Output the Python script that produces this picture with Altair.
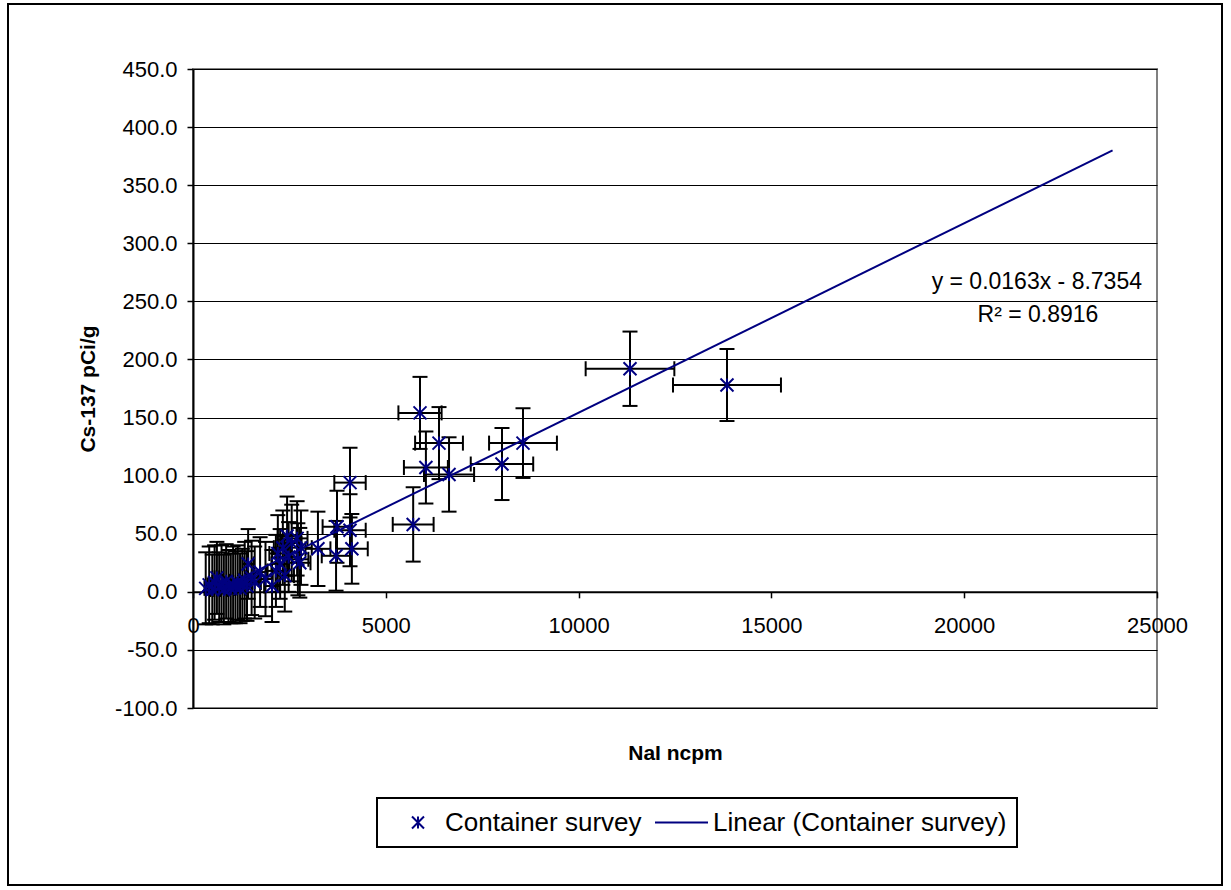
import altair as alt
import pandas as pd

# ---- data ----
NCPM = [330, 420, 500, 560, 620, 680, 740, 800, 860, 920,
        980, 1040, 1100, 1160, 1220, 1280, 1340, 1400, 1430, 1520,
        1600, 1740, 1880, 2050, 2150, 2200, 2260, 2330, 2380, 2440,
        2480, 2560, 2700, 2720, 2770, 2800, 3240, 3710, 3734, 4072,
        4072, 4120, 5710, 5887, 6040, 6380, 6640, 8013, 8558, 11333,
        13848]
CS137 = [3, 6, 2, 8, 12, 4, 7, 2, 9, 5,
         3, 6, 4, 8, 3, 6, 10, 5, 24, 12,
         8, 17, 11, 5, 18, 33, 24, 38, 14, 48,
         30, 42, 46, 28, 25, 38, 37, 31, 56, 94,
         53, 37, 58, 154, 107, 128, 101, 110, 128, 192,
         178]
NCPM_ERR = [33, 42, 50, 56, 62, 68, 74, 80, 86, 92,
            98, 104, 110, 116, 122, 128, 134, 140, 143, 152,
            160, 174, 188, 205, 215, 220, 226, 233, 238, 244,
            248, 256, 270, 272, 277, 280, 324, 371, 373, 407,
            407, 412, 530, 560, 570, 620, 650, 810, 880, 1150,
            1400]
CS137_ERR = [31, 33, 30, 32, 31, 30, 33, 30, 32, 31,
             30, 33, 31, 32, 30, 31, 33, 30, 30, 32,
             31, 30, 32, 31, 31, 33, 30, 32, 31, 34,
             30, 33, 32, 31, 30, 32, 32, 30, 31, 30,
             31, 30, 32, 31, 31, 31, 32, 31, 30, 32,
             31]
SERIES = ["Container survey", "Linear (Container survey)"]
SLOPE = 0.0163
INTERCEPT = -8.7354
TREND_X = [330, 23848]
X_TICKS = [0, 5000, 10000, 15000, 20000, 25000]
Y_TICKS = [-100, -50, 0, 50, 100, 150, 200, 250, 300, 350, 400, 450]
EQ_LINE = "y = 0.0163x - 8.7354"
R2_LINE = "R\u00b2 = 0.8916"

# ---- layout / style ----
W, H = 964, 639
NAVY = "#000080"
FONT = "Liberation Sans"
STAR = "M-1,-1L1,1M-1,1L1,-1M0,-1L0,1"

df = pd.DataFrame({"ncpm": NCPM, "cs": CS137, "xe": NCPM_ERR, "ye": CS137_ERR})

xscale = alt.Scale(domain=[0, 25000], nice=False, zero=False)
yscale = alt.Scale(domain=[-100, 450], nice=False, zero=False)

x_axis = alt.Axis(values=X_TICKS, format="d", grid=False, offset=-H * 100 / 550,
                  title="NaI ncpm", titleY=162, titleBaseline="middle",
                  labelPadding=18, labelFlush=False, labelOverlap=False,
                  tickSize=6)
y_axis = alt.Axis(values=Y_TICKS, format=".1f", grid=True, title="Cs-137 pCi/g",
                  labelExpr="replace(datum.label, '\u2212', '-')",
                  titleX=-105, titleBaseline="middle", labelPadding=10, tickSize=6)

base = alt.Chart(df).transform_calculate(
    xlo="datum.ncpm - datum.xe", xhi="datum.ncpm + datum.xe",
    ylo="datum.cs - datum.ye", yhi="datum.cs + datum.ye",
)

ybars = base.mark_rule(color="black", strokeWidth=2).encode(
    x=alt.X("ncpm:Q", scale=xscale, axis=x_axis),
    y=alt.Y("ylo:Q", scale=yscale, axis=y_axis),
    y2="yhi:Q",
)
xbars = base.mark_rule(color="black", strokeWidth=2).encode(
    x=alt.X("xlo:Q", scale=xscale),
    x2="xhi:Q",
    y=alt.Y("cs:Q", scale=yscale),
)
ycaps = base.transform_fold(["ylo", "yhi"], as_=["k", "v"]).mark_point(
    shape="M-1,0L1,0", size=225, filled=False, color="black", strokeWidth=2, opacity=1
).encode(x=alt.X("ncpm:Q", scale=xscale), y=alt.Y("v:Q", scale=yscale))
xcaps = base.transform_fold(["xlo", "xhi"], as_=["k", "v"]).mark_point(
    shape="M0,-1L0,1", size=225, filled=False, color="black", strokeWidth=2, opacity=1
).encode(x=alt.X("v:Q", scale=xscale), y=alt.Y("cs:Q", scale=yscale))

trend = alt.Chart(pd.DataFrame({"tx": TREND_X})).transform_calculate(
    ty=f"{SLOPE} * datum.tx + ({INTERCEPT})"
).mark_line(color=NAVY, strokeWidth=2).encode(
    x=alt.X("tx:Q", scale=xscale), y=alt.Y("ty:Q", scale=yscale)
)

points = alt.Chart(df).mark_point(shape=STAR, size=169, filled=False, color=NAVY,
                                  strokeWidth=2, opacity=1).encode(
    x=alt.X("ncpm:Q", scale=xscale),
    y=alt.Y("cs:Q", scale=yscale),
)

eq = alt.Chart(pd.DataFrame({"t": [EQ_LINE]})).mark_text(
    font=FONT, fontSize=23, align="right", baseline="middle", color="black").encode(
    x=alt.value(949), y=alt.value(213), text="t:N")
r2 = alt.Chart(pd.DataFrame({"t": [R2_LINE]})).mark_text(
    font=FONT, fontSize=23, align="center", baseline="middle", color="black").encode(
    x=alt.value(845), y=alt.value(246), text="t:N")

# ---- legend (drawn as a boxed key below the plot) ----
one = pd.DataFrame({"a": [0]})
leg_box = alt.Chart(one).mark_rect(fill="white", stroke="black", strokeWidth=2).encode(
    x=alt.value(184), x2=alt.value(824), y=alt.value(729), y2=alt.value(778))
leg_star = alt.Chart(one).mark_point(shape=STAR, size=144, filled=False, color=NAVY,
                                     strokeWidth=2, opacity=1).encode(
    x=alt.value(225), y=alt.value(753.5))
leg_line = alt.Chart(one).mark_rule(color=NAVY, strokeWidth=2).encode(
    x=alt.value(462), x2=alt.value(515), y=alt.value(753.5))
leg_t1 = alt.Chart(pd.DataFrame({"t": [SERIES[0]]})).mark_text(
    font=FONT, fontSize=26, align="left", baseline="middle", color="black").encode(
    x=alt.value(252), y=alt.value(754), text="t:N")
leg_t2 = alt.Chart(pd.DataFrame({"t": [SERIES[1]]})).mark_text(
    font=FONT, fontSize=26, align="left", baseline="middle", color="black").encode(
    x=alt.value(520), y=alt.value(754), text="t:N")

border = alt.Chart(one).mark_rect(fillOpacity=0, stroke="black", strokeWidth=2).encode(
    x=alt.value(-185), x2=alt.value(1029), y=alt.value(-65), y2=alt.value(816))

chart = alt.layer(ybars, xbars, ycaps, xcaps, trend, points, eq, r2,
                  leg_box, leg_star, leg_line, leg_t1, leg_t2, border).properties(
    width=W, height=H,
    autosize=alt.AutoSizeParams(type="none"),
    padding={"left": 193, "top": 69, "right": 1231 - 193 - W, "bottom": 890 - 69 - H},
    background="white",
).configure_view(
    stroke="#808080", strokeWidth=2
).configure_axis(
    labelFont=FONT, labelFontSize=22, labelColor="black",
    titleFont=FONT, titleFontSize=21, titleFontWeight="bold", titleColor="black",
    domainColor="black", domainWidth=2, tickColor="black", tickWidth=1.5,
    gridColor="black", gridWidth=1,
)

chart.save("out.html", embed_options={"renderer": "svg", "actions": False})
